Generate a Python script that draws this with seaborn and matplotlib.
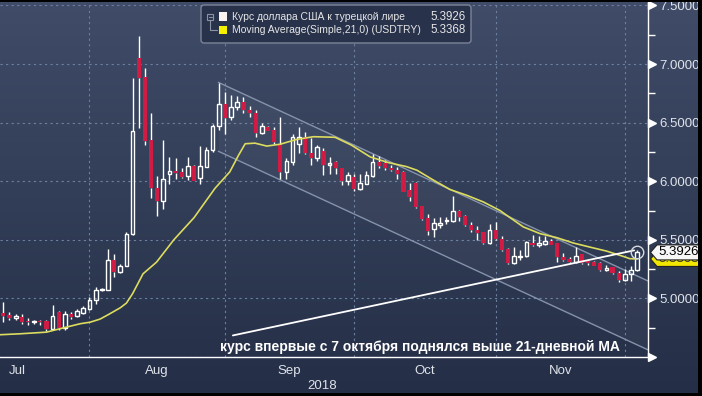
import numpy as np
import matplotlib
matplotlib.use("Agg")
import matplotlib.pyplot as plt
import matplotlib.transforms as mtransforms
from matplotlib.patches import Polygon, Rectangle, FancyBboxPatch
import seaborn as sns

# USDTRY daily candles, 12 Jul - 4 Dec 2018 (one entry per trading day)
opens = [4.875, 4.855, 4.835, 4.845, 4.81, 4.795, 4.805, 4.81, 4.74, 4.88,
         4.745, 4.865, 4.85, 4.875, 4.91, 4.985, 5.07, 5.075, 5.33, 5.225,
         5.28, 5.55, 7.05, 6.89, 6.35, 5.945, 5.83, 6.06, 6.09, 6.075,
         6.045, 6.13, 6.025, 6.125, 6.265, 6.47, 6.655, 6.55, 6.635, 6.675,
         6.605, 6.585, 6.415, 6.465, 6.435, 6.31, 6.08, 6.165, 6.315, 6.38,
         6.245, 6.2, 6.255, 6.14, 6.16, 6.11, 6.0, 6.035, 5.935, 5.98,
         6.045, 6.16, 6.155, 6.115, 6.10, 6.075, 5.925, 5.985, 5.785, 5.685,
         5.59, 5.63, 5.66, 5.66, 5.745, 5.70, 5.63, 5.585, 5.565, 5.475,
         5.58, 5.51, 5.425, 5.30, 5.35, 5.36, 5.47, 5.455, 5.465, 5.49,
         5.47, 5.35, 5.34, 5.31, 5.375, 5.32, 5.31, 5.30, 5.245, 5.265,
         5.215, 5.155, 5.21, 5.24]
closes = [4.85, 4.835, 4.85, 4.80, 4.795, 4.803, 4.795, 4.735, 4.85, 4.745,
          4.865, 4.84, 4.89, 4.915, 4.99, 5.07, 5.08, 5.33, 5.225, 5.28,
          5.55, 6.43, 6.885, 6.345, 5.945, 5.83, 6.015, 6.09, 6.07, 6.04,
          6.13, 6.005, 6.13, 6.27, 6.475, 6.655, 6.54, 6.635, 6.675, 6.605,
          6.58, 6.41, 6.47, 6.43, 6.335, 6.08, 6.17, 6.38, 6.38, 6.245,
          6.20, 6.295, 6.14, 6.15, 6.11, 6.0, 6.055, 5.935, 5.985, 6.05,
          6.16, 6.13, 6.11, 6.095, 6.065, 5.91, 5.865, 5.78, 5.68, 5.575,
          5.64, 5.64, 5.67, 5.745, 5.695, 5.625, 5.58, 5.56, 5.475, 5.58,
          5.505, 5.415, 5.30, 5.36, 5.36, 5.48, 5.455, 5.47, 5.49, 5.46,
          5.35, 5.33, 5.31, 5.365, 5.30, 5.30, 5.28, 5.245, 5.26, 5.215,
          5.155, 5.21, 5.245, 5.3926]
highs = [4.97, 4.88, 4.87, 4.865, 4.83, 4.82, 4.82, 4.82, 4.94, 4.89,
         4.89, 4.88, 4.91, 4.935, 5.01, 5.095, 5.09, 5.42, 5.375, 5.29,
         5.565, 6.88, 7.24, 6.97, 6.58, 6.045, 6.35, 6.21, 6.2, 6.11,
         6.21, 6.14, 6.30, 6.29, 6.49, 6.84, 6.76, 6.735, 6.73, 6.72,
         6.645, 6.61, 6.50, 6.475, 6.465, 6.55, 6.195, 6.40, 6.465, 6.42,
         6.365, 6.31, 6.28, 6.205, 6.17, 6.115, 6.08, 6.06, 6.06, 6.09,
         6.23, 6.215, 6.18, 6.14, 6.12, 6.085, 5.985, 5.99, 5.79, 5.72,
         5.69, 5.695, 5.695, 5.87, 5.755, 5.71, 5.655, 5.615, 5.57, 5.635,
         5.65, 5.53, 5.43, 5.435, 5.415, 5.49, 5.545, 5.535, 5.53, 5.51,
         5.475, 5.39, 5.35, 5.435, 5.38, 5.325, 5.315, 5.31, 5.285, 5.27,
         5.235, 5.255, 5.28, 5.41]
lows = [4.80, 4.815, 4.82, 4.785, 4.77, 4.785, 4.77, 4.725, 4.73, 4.73,
        4.73, 4.825, 4.845, 4.87, 4.90, 4.95, 5.065, 5.07, 5.18, 5.215,
        5.275, 5.54, 6.45, 6.31, 5.86, 5.70, 5.76, 5.98, 6.02, 6.03,
        6.01, 6.0, 5.98, 6.12, 6.25, 6.44, 6.40, 6.52, 6.605, 6.58,
        6.55, 6.38, 6.40, 6.425, 6.32, 6.015, 6.015, 6.14, 6.24, 6.235,
        6.14, 6.17, 6.05, 6.06, 6.06, 5.965, 5.97, 5.915, 5.925, 5.975,
        6.035, 6.11, 6.10, 6.085, 6.02, 5.905, 5.83, 5.77, 5.67, 5.545,
        5.525, 5.605, 5.635, 5.655, 5.66, 5.615, 5.57, 5.50, 5.465, 5.465,
        5.495, 5.405, 5.29, 5.295, 5.325, 5.35, 5.445, 5.44, 5.46, 5.455,
        5.31, 5.315, 5.30, 5.30, 5.29, 5.285, 5.275, 5.235, 5.23, 5.205,
        5.14, 5.145, 5.145, 5.235]

# 21-day simple moving average (position in trading days, value)
ma_pos = [-0.54, 2.7, 7, 9.2, 12.5, 14.1, 15.7, 17, 19, 20, 21, 22.7, 24.9, 27.7,
          31, 34.4, 36.8, 38.2, 39.3, 40.9, 42.8, 45, 47.6, 50.4, 53.9, 56.5,
          59.6, 62.5, 65.5, 67.2, 69.9, 72.6, 75.3, 78, 80.7, 81.8, 84.5, 87.2,
          89.9, 92.6, 95.3, 98, 100.7, 101.8, 103]
ma_val = [4.69, 4.698, 4.712, 4.741, 4.784, 4.797, 4.823, 4.86, 4.92, 4.96, 5.04,
          5.21, 5.31, 5.50, 5.69, 5.94, 6.08, 6.22, 6.32, 6.325, 6.30, 6.316,
          6.356, 6.38, 6.375, 6.31, 6.208, 6.16, 6.125, 6.094, 6.009, 5.929,
          5.88, 5.823, 5.75, 5.709, 5.61, 5.553, 5.519, 5.473, 5.438, 5.404,
          5.359, 5.339, 5.3368]

month_starts = [14, 36, 57, 80, 101]
month_label_pos = [2.3, 25, 46.5, 68.5, 90.5]
month_labels = ['Jul', 'Aug', 'Sep', 'Oct', 'Nov']
y_ticks = [4.5, 5.0, 5.5, 6.0, 6.5, 7.0, 7.5]
y_tick_labels = ['', '5.0000', '5.5000', '6.0000', '6.5000', '7.0000', '7.5000']

# drawn annotations: falling channel and support line
channel_x = [34.93, 104.75]
channel_upper = [6.844, 5.149]
channel_lower = [6.256, 4.561]
support_x = [37.3, 102.5]
support_y = [4.684, 5.41]

last_price = 5.3926
last_ma = 5.3368
series_name = 'Курс доллара США к турецкой лире'
ma_name = 'Moving Average(Simple,21,0) (USDTRY)'
note = 'курс впервые с 7 октября поднялся выше 21-дневной MA'

sns.set_style("dark")
plt.rcParams['font.family'] = ['Liberation Sans', 'DejaVu Sans']

W, H = 702, 396
fig = plt.figure(figsize=(W / 100, H / 100), dpi=100)
pix = mtransforms.IdentityTransform()

# background gradient
bg = fig.add_axes([0, 0, 1, 1], zorder=-10)
t = np.linspace(0, 1, 256)[:, None, None]
c_top = np.array([64, 76, 104]) / 255
c_bot = np.array([36, 46, 70]) / 255
bg.imshow(c_top + (c_bot - c_top) * t, aspect='auto', extent=[0, 1, 0, 1])
bg.axis('off')

ax = fig.add_axes([0, 1 - 357 / H, 648 / W, 354 / H])
ax.set_facecolor('none')

o = np.array(opens); c = np.array(closes); h = np.array(highs); l = np.array(lows)
x = np.arange(len(o))
up = c >= o
lo = np.minimum(o, c)
hi = np.maximum(o, c)
hgt = np.maximum(hi - lo, 0.012)
red = '#d01c45'

# channel
ax.fill_between(channel_x, channel_lower, channel_upper, color='white', alpha=0.04, lw=0, zorder=1)
ax.plot(channel_x, channel_upper, color='#8592ab', lw=1, zorder=1.5)
ax.plot(channel_x, channel_lower, color='#8592ab', lw=1, zorder=1.5)

ax.vlines(x, hi, h, color='white', lw=1, zorder=3)
ax.vlines(x, l, lo, color='white', lw=1, zorder=3)
ax.bar(x[~up], hgt[~up], bottom=lo[~up], width=0.7, color=red, lw=0, zorder=3)
ax.bar(x[up], hgt[up], bottom=lo[up], width=0.62, facecolor='none',
       edgecolor='white', lw=1, zorder=3)

sns.lineplot(x=ma_pos, y=ma_val, ax=ax, color='#dcdc5e', lw=1.2,
             estimator=None, sort=False, legend=False, zorder=4)

ax.plot(support_x, support_y, color='white', lw=1.3, zorder=5)
ax.plot(x[-1], h[-1] - 0.01, marker='o', ms=9, mfc='none', mec='#d5d9e0', mew=1, zorder=6)

ax.text(35.2, 4.582, note, color='white', fontsize=10, fontweight='bold',
        va='center', ha='left', zorder=6)

ax.set_xlim(-0.54, 104.75)
ax.set_ylim(4.5, 7.521)

# axes, ticks, grid
ax.yaxis.tick_right()
ax.set_yticks(y_ticks)
ax.set_yticklabels(y_tick_labels)
ax.set_yticks(np.arange(4.75, 7.5, 0.5), minor=True)
ax.set_xticks(month_starts)
ax.set_xticklabels([''] * len(month_starts))
ax.set_xticks(month_label_pos, minor=True)
ax.set_xticklabels(month_labels, minor=True)
ax.tick_params(axis='y', which='major', length=0, pad=8, labelsize=9.5, labelcolor='#dfe3ea')
ax.tick_params(axis='y', which='minor', length=5, width=1, color='white', direction='out')
ax.tick_params(axis='x', which='major', length=5, width=1, color='white', direction='out')
ax.tick_params(axis='x', which='minor', length=0, pad=6, labelsize=9.5, labelcolor='#dfe3ea')
ax.grid(True, which='major', color='#6e80a0', linestyle=(0, (2, 3)), lw=0.8)
ax.set_axisbelow(True)
for s in ['left', 'top']:
    ax.spines[s].set_visible(False)
for s in ['right', 'bottom']:
    ax.spines[s].set_color('white')
    ax.spines[s].set_linewidth(1)

ytr = ax.get_yaxis_transform()
ax.plot([1 + 3.5 / 648] * len(y_ticks), y_ticks, transform=ytr, ls='none', marker='>',
        ms=5.5, color='white', clip_on=False, zorder=7)
ax.text(51.8, -0.082, '2018', transform=ax.get_xaxis_transform(), ha='center',
        va='center', fontsize=9.5, color='#dfe3ea')

# price tags on the right axis (the MA tag sits behind the price tag)
y_price = ax.transData.transform((0, last_price))[1]
y_ma = ax.transData.transform((0, last_ma))[1]

def tag_shape(yp):
    return [(650.5, yp), (657, yp + 7.5), (700, yp + 7.5), (700, yp - 7.5), (657, yp - 7.5)]

fig.patches.append(Polygon(tag_shape(y_ma), closed=True, transform=pix, facecolor='#f2e600',
                           edgecolor='#222222', lw=0.8, zorder=20))
ma_txt = fig.text(679 / W, y_ma / H, f'{last_ma:.4f}', ha='center', va='center',
                  fontsize=9.5, color='#333333', zorder=20.5)
ma_txt.set_clip_path(Rectangle((650, y_ma - 8), 52, (y_price - 7.5) - (y_ma - 8), transform=pix))
fig.patches.append(Polygon(tag_shape(y_price), closed=True, transform=pix, facecolor='#f7f7f7',
                           edgecolor='#222222', lw=0.8, zorder=22))
fig.text(679 / W, y_price / H, f'{last_price:.4f}', ha='center', va='center',
         fontsize=9.5, color='black', zorder=22.5)

# legend box
fig.patches.append(FancyBboxPatch((201, H - 43), 270, 38, boxstyle='round,pad=0,rounding_size=3',
                                  transform=pix, facecolor='#28324b', edgecolor='#7c8597',
                                  lw=1, zorder=10))
fig.patches.append(Rectangle((207, H - 20), 6, 6, transform=pix, facecolor='none',
                             edgecolor='#8a93a3', lw=0.8, zorder=11))
fig.lines.append(plt.Line2D([208.5, 211.5], [H - 17, H - 17], transform=pix, color='#8a93a3', lw=0.8, zorder=11))
fig.lines.append(plt.Line2D([210, 210, 217], [H - 20, H - 30, H - 30], transform=pix, color='#8a93a3', lw=0.8, zorder=11))
fig.patches.append(Rectangle((218.5, H - 20.7), 8.2, 8.4, transform=pix, facecolor='#fbf2f2', lw=0, zorder=11))
fig.patches.append(Rectangle((218.5, H - 34), 8.2, 8.4, transform=pix, facecolor='#f5f000', lw=0, zorder=11))
for yy, name, val in [(16.5, series_name, last_price), (30, ma_name, last_ma)]:
    fig.text(231.5 / W, 1 - yy / H, name, ha='left', va='center', fontsize=7.5,
             color='#e6e6e6', zorder=12)
    fig.text(466 / W, 1 - yy / H, f'{val:.4f}', ha='right', va='center', fontsize=8.3,
             color='#e6e6e6', zorder=12)

# black frame edges
for r in [(0, H - 1.5, W, 1.5), (698, 0, 4, H), (0, 0, W, 3)]:
    fig.patches.append(Rectangle(r[:2], r[2], r[3], transform=pix, facecolor='black', lw=0, zorder=30))

fig.savefig('out.png', dpi=100)
